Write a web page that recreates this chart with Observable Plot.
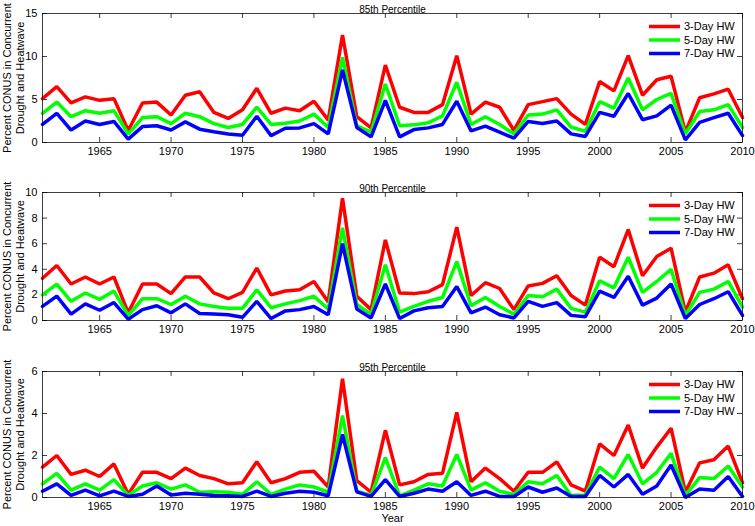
<!DOCTYPE html>
<html><head><meta charset="utf-8">
<script src="https://cdn.jsdelivr.net/npm/d3@7"></script>
<script src="https://cdn.jsdelivr.net/npm/@observablehq/plot@0.6"></script>
<style>
body{margin:0;background:#fff;}
#chart{position:relative;width:755px;height:526px;font-family:"Liberation Sans",Arial,sans-serif;overflow:hidden;}
#chart svg{position:absolute;left:0;}
</style></head><body><div id="chart"></div>
<script>
const years = [1961,1962,1963,1964,1965,1966,1967,1968,1969,1970,1971,1972,1973,1974,1975,1976,1977,1978,1979,1980,
  1981,1982,1983,1984,1985,1986,1987,1988,1989,1990,1991,1992,1993,1994,1995,1996,1997,1998,1999,2000,
  2001,2002,2003,2004,2005,2006,2007,2008,2009,2010];
const seriesNames = ["3-Day HW", "5-Day HW", "7-Day HW"];
const seriesColors = ["#ff0000", "#00ff00", "#0000ff"];
const xTicks = [1965,1970,1975,1980,1985,1990,1995,2000,2005,2010];
const panelTitles = ["85th Percentile", "90th Percentile", "95th Percentile"];
const yLabel = "Percent CONUS in Concurrent\nDrought and Heatwave";
const xLabel = "Year";

// 85th percentile
const p85_3day = [5.1,6.5,4.6,5.3,4.9,5.1,1.4,4.6,4.7,3.2,5.5,5.9,3.5,2.8,3.8,6.3,3.4,4.0,3.7,4.8,
  2.6,12.5,3.0,1.7,9.0,4.1,3.5,3.5,4.4,10.1,3.3,4.7,4.1,1.4,4.4,4.75,5.1,3.3,2.1,7.1,
  6.0,10.1,5.5,7.3,7.7,1.2,5.2,5.65,6.2,2.9];
const p85_5day = [3.4,4.7,3.0,3.7,3.4,3.7,1.0,2.9,3.0,2.2,3.4,3.0,2.2,1.75,2.1,4.1,2.1,2.25,2.5,3.3,
  1.75,9.9,1.95,1.2,6.8,1.95,2.05,2.3,3.1,7.0,2.1,3.0,2.1,1.0,3.2,3.3,3.8,1.8,1.3,4.75,
  4.0,7.5,3.8,5.0,5.7,1.0,3.6,3.8,4.4,1.75];
const p85_7day = [2.1,3.4,1.45,2.5,2.1,2.45,0.4,1.85,1.95,1.45,2.4,1.55,1.25,1.0,0.85,3.05,0.8,1.65,1.7,2.2,
  1.0,8.45,1.75,0.65,4.9,0.65,1.5,1.7,2.1,4.8,1.35,1.9,1.2,0.5,2.45,2.2,2.5,1.0,0.7,3.5,
  3.05,5.7,2.65,3.1,4.35,0.3,2.35,2.9,3.4,0.8];
// 90th percentile
const p90_3day = [3.3,4.3,2.85,3.4,2.85,3.4,0.6,2.85,2.85,2.1,3.4,3.4,2.15,1.7,2.2,4.1,2.0,2.3,2.4,3.05,
  1.45,9.55,1.9,0.85,6.3,2.15,2.1,2.25,2.8,7.3,1.95,2.95,2.5,0.85,2.7,2.9,3.5,1.95,1.2,4.95,
  4.2,7.1,3.5,5.0,5.65,0.65,3.4,3.7,4.35,1.7];
const p90_5day = [2.0,2.85,1.5,2.15,1.65,2.3,0.4,1.7,1.7,1.25,1.9,1.3,1.1,0.95,0.95,2.4,1.0,1.3,1.55,1.9,
  0.9,7.25,1.25,0.5,4.35,0.65,1.1,1.5,1.8,4.6,1.15,1.8,1.1,0.5,1.95,1.85,2.45,0.95,0.65,3.1,
  2.55,4.95,2.2,3.05,4.0,0.4,2.2,2.45,3.05,1.05];
const p90_7day = [1.1,1.9,0.5,1.3,0.8,1.4,0.1,0.85,1.15,0.6,1.3,0.55,0.5,0.45,0.25,1.5,0.15,0.75,0.85,1.1,
  0.45,6.0,0.9,0.2,2.85,0.15,0.75,1.0,1.1,2.65,0.6,1.05,0.45,0.2,1.5,1.1,1.4,0.4,0.3,2.3,
  1.8,3.45,1.2,1.75,2.85,0.15,1.25,1.7,2.25,0.4];
// 95th percentile
const p95_3day = [1.45,2.0,1.1,1.3,1.0,1.6,0.15,1.2,1.2,0.9,1.4,1.05,0.9,0.65,0.7,1.7,0.7,0.9,1.2,1.25,
  0.5,5.65,0.8,0.25,3.2,0.6,0.75,1.1,1.15,4.05,0.75,1.4,0.9,0.3,1.2,1.2,1.7,0.6,0.3,2.55,
  2.0,3.45,1.4,2.4,3.3,0.25,1.65,1.8,2.45,0.7];
const p95_5day = [0.65,1.15,0.35,0.65,0.35,0.85,0.1,0.55,0.7,0.4,0.6,0.25,0.27,0.25,0.15,0.75,0.15,0.4,0.6,0.5,
  0.25,3.9,0.3,0.1,1.9,0.08,0.35,0.65,0.55,2.05,0.35,0.7,0.3,0.15,0.75,0.65,1.05,0.1,0.12,1.45,
  0.9,2.05,0.65,1.2,2.1,0.1,0.95,0.9,1.5,0.5];
const p95_7day = [0.3,0.65,0.1,0.35,0.08,0.3,0.05,0.15,0.55,0.12,0.2,0.15,0.1,0.08,0.05,0.3,0.05,0.2,0.3,0.25,
  0.08,3.0,0.27,0.05,0.85,0.05,0.2,0.4,0.3,0.75,0.1,0.3,0.05,0.05,0.5,0.25,0.45,0.05,0.05,1.05,
  0.5,1.1,0.15,0.55,1.55,0.0,0.4,0.35,1.0,0.05];

const yDomains = [[0,15],[0,10],[0,6]];
const yTickSets = [[0,5,10,15],[0,2,4,6,8,10],[0,2,4,6]];
const panelValues = [[p85_3day,p85_5day,p85_7day],[p90_3day,p90_5day,p90_7day],[p95_3day,p95_5day,p95_7day]];

// layout
const layout = [
  {top: 0,   plotH: 129, mb: 20},
  {top: 179, plotH: 128, mb: 20},
  {top: 358, plotH: 126, mb: 29}
];
const W = 755, mL = 42, mR = 13, mT = 13;
const font = '"Liberation Sans", Arial, sans-serif';

function legendMark() {
  return function(index, scales, values, dimensions) {
    const g = d3.create("svg:g");
    const xr = dimensions.width - dimensions.marginRight;
    seriesNames.forEach((s, k) => {
      const y = dimensions.marginTop + 13.5 + 13.5 * k;
      g.append("line").attr("x1", xr - 93).attr("x2", xr - 62).attr("y1", y).attr("y2", y)
        .attr("stroke", seriesColors[k]).attr("stroke-width", 3.5);
      g.append("text").attr("x", xr - 58).attr("y", y).attr("dy", "0.35em")
        .attr("text-anchor", "start")
        .attr("font-size", 11).attr("fill", "#000").attr("font-family", font).text(s);
    });
    return g.node();
  };
}

const container = document.getElementById("chart");
layout.forEach((L, p) => {
  const data = [];
  seriesNames.forEach((s, k) => panelValues[p][k].forEach((v, j) => data.push({year: years[j], value: v, series: s})));
  const ph = L.plotH, pw = W - mL - mR;
  const H = mT + ph + L.mb;
  const marks = [
    Plot.ruleX(xTicks, {x: d => d, insetTop: ph - 5, stroke: "#000", strokeWidth: 0.75}),
    Plot.ruleX(xTicks, {x: d => d, insetBottom: ph - 5, stroke: "#000", strokeWidth: 0.75}),
    Plot.ruleY(yTickSets[p], {y: d => d, insetLeft: pw - 5, stroke: "#000", strokeWidth: 0.75}),
    Plot.ruleY(yTickSets[p], {y: d => d, insetRight: pw - 5, stroke: "#000", strokeWidth: 0.75}),
    Plot.lineY(data, {x: "year", y: "value", stroke: "series", z: "series", strokeWidth: 3.5, strokeLinejoin: "miter"}),
    Plot.frame({stroke: "#000", strokeWidth: 0.75}),
    Plot.axisX(xTicks, {anchor: "bottom", tickSize: 0, tickPadding: 5, tickFormat: d => String(d), label: null, fontSize: 11}),
    Plot.axisY(yTickSets[p], {anchor: "left", tickSize: 0, tickPadding: 5, label: null, fontSize: 11}),
    Plot.text([panelTitles[p]], {frameAnchor: "top", dy: -8, fontSize: 10}),
    Plot.text([yLabel], {frameAnchor: "left", textAnchor: "middle", lineAnchor: "middle", rotate: -90, dx: -29, lineHeight: 1.2, fontSize: 11}),
    legendMark()
  ];
  if (p === 2) marks.push(Plot.text([xLabel], {frameAnchor: "bottom", dy: 24, fontSize: 11}));
  const svg = Plot.plot({
    width: W, height: H,
    marginLeft: mL, marginRight: mR, marginTop: mT, marginBottom: L.mb,
    style: {fontFamily: font, fontSize: "11px", color: "#000", background: "transparent", overflow: "visible"},
    x: {domain: [1961, 2010]},
    y: {domain: yDomains[p]},
    color: {domain: seriesNames, range: seriesColors},
    marks
  });
  svg.style.top = L.top + "px";
  container.appendChild(svg);
});
</script></body></html>
